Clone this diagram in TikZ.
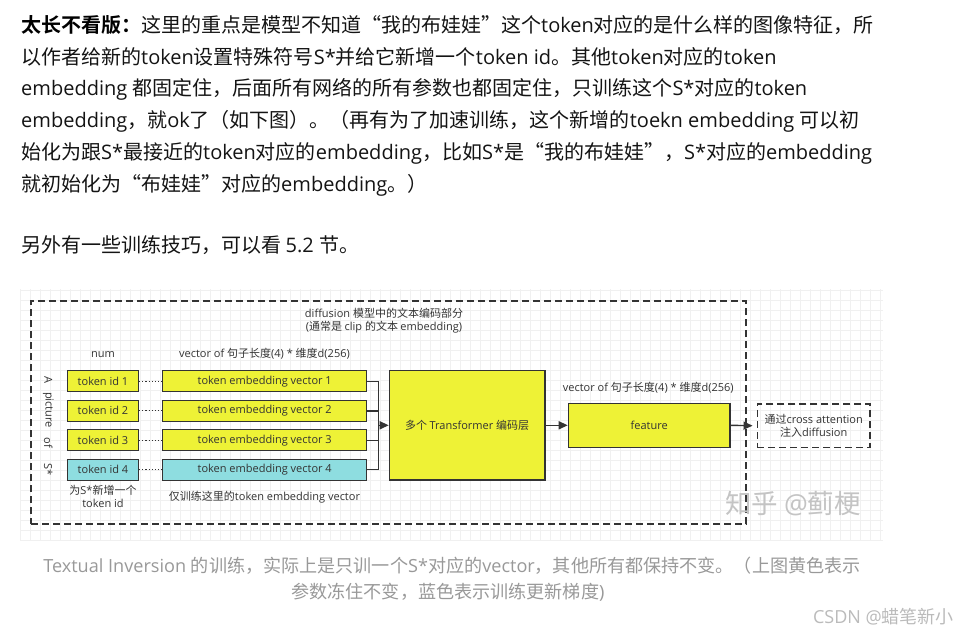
\documentclass[tikz,border=0pt]{standalone}
\usepackage{fontspec}
\setmainfont{Open Sans}
\newfontfamily\cjk{Noto Sans CJK SC}[BoldFont={Noto Sans CJK SC Bold}]
\usetikzlibrary{arrows.meta}
\XeTeXinterchartokenstate=1
\newXeTeXintercharclass\CJKcls
\newcount\cjkcnt
\cjkcnt="2E80
\loop\XeTeXcharclass\cjkcnt=\CJKcls
\ifnum\cjkcnt<"9FFF \advance\cjkcnt by 1 \repeat
\cjkcnt="FF00
\loop\XeTeXcharclass\cjkcnt=\CJKcls
\ifnum\cjkcnt<"FFEF \advance\cjkcnt by 1 \repeat
\XeTeXcharclass"201C=\CJKcls
\XeTeXcharclass"201D=\CJKcls
\XeTeXinterchartoks 0 \CJKcls = {\cjk}
\XeTeXinterchartoks 4095 \CJKcls = {\cjk}
\XeTeXinterchartoks \CJKcls 0 = {\rmfamily}
\XeTeXinterchartoks 4095 0 = {\rmfamily}
\definecolor{bodytxt}{HTML}{141414}
\definecolor{captxt}{HTML}{999999}
\definecolor{csdntxt}{HTML}{BBBBBB}
\definecolor{yel}{HTML}{EEF236}
\definecolor{cya}{HTML}{8EDDE0}
\definecolor{edge}{HTML}{333333}
\definecolor{gridc}{HTML}{F0F0F0}
\definecolor{wmark}{HTML}{C4C4C4}
\tikzset{
  bodyline/.style={anchor=west, inner sep=0, text=bodytxt, font=\fontsize{20}{24}\selectfont},
  capline/.style={anchor=center, inner sep=0, text=captxt, font=\fontsize{18.1}{22}\selectfont},
  dlabel/.style={inner sep=0, text=edge, font=\fontsize{11}{13.2}\selectfont, align=center},
  ybox/.style={draw=edge, fill=yel, line width=1.3pt, inner sep=0, text=edge,
     font=\fontsize{11}{13.2}\selectfont, align=center},
  cbox/.style={ybox, fill=cya},
  idbox/.style={minimum width=70.6pt, minimum height=21pt},
  embbox/.style={minimum width=204pt, minimum height=21pt},
  dashbox/.style={draw=edge, line width=1.6pt, dash pattern=on 7pt off 4pt, inner sep=0},
  conn/.style={draw=edge, line width=1.4pt},
  arr/.style={conn, -{Triangle[length=9pt, width=8pt]}},
  dots/.style={draw=edge, line width=1.2pt, dash pattern=on 1.2pt off 2pt},
}
\begin{document}
\begin{tikzpicture}[x=1pt, y=-1pt]
\useasboundingbox[fill=white] (0,0) rectangle (960,634);
% body text
\node[bodyline] (l1) at (21,25) {\textbf{\color{black}太长不看版：}这里的重点是模型不知道“我的布娃娃”这个token对应的是什么样的图像特征，所};
\node[bodyline] (l2) at (21,57) {以作者给新的token设置特殊符号S*并给它新增一个token id。其他token对应的token};
\node[bodyline] (l3) at (21,89) {embedding 都固定住，后面所有网络的所有参数也都固定住，只训练这个S*对应的token};
\node[bodyline] (l4) at (21,121) {embedding，就ok了（如下图）。（再有为了加速训练，这个新增的toekn embedding 可以初};
\node[bodyline] (l5) at (21,153) {始化为跟S*最接近的token对应的embedding，比如S*是“我的布娃娃”，S*对应的embedding};
\node[bodyline] (l6) at (21,185) {就初始化为“布娃娃”对应的embedding。）};
\node[bodyline] (l7) at (21,245) {另外有一些训练技巧，可以看 5.2 节。};
% diagram background grid
\fill[white] (20,289) rectangle (883,540);
\foreach \gx in {20,30,...,880} \draw[gridc, line width=0.6pt] (\gx,289) -- (\gx,540);
\foreach \gy in {290,300,...,540} \draw[gridc, line width=0.6pt] (20,\gy) -- (883,\gy);
% outer dashed box
\node[dashbox, minimum width=715pt, minimum height=223pt] (outer) at (388.5,412.5) {};
\node[dlabel] (title) at (384,321) {diffusion 模型中的文本编码部分\\(通常是 clip 的文本 embedding)};
\node[dlabel] (num) at (103,354.3) {num};
\node[dlabel] (vec1) at (264.5,354) {vector of 句子长度(4) * 维度d(256)};
% vertical text
\node[dlabel, rotate=-90] (tA) at (48.3,380) {A};
\node[dlabel, rotate=-90] (tpic) at (48.3,410) {picture};
\node[dlabel, rotate=-90] (tof) at (48.3,443) {of};
\node[dlabel, rotate=-90] (tS) at (48.3,470) {S*};
% token id boxes
\node[ybox, idbox] (id1) at (103,381.2) {token id 1};
\node[ybox, idbox] (id2) at (103,410.8) {token id 2};
\node[ybox, idbox] (id3) at (103,440.3) {token id 3};
\node[cbox, idbox] (id4) at (103,469.7) {token id 4};
% embedding boxes
\node[ybox, embbox] (e1) at (264.7,381.2) {token embedding vector 1};
\node[ybox, embbox] (e2) at (264.7,410.8) {token embedding vector 2};
\node[ybox, embbox] (e3) at (264.7,440.3) {token embedding vector 3};
\node[cbox, embbox] (e4) at (264.7,469.7) {token embedding vector 4};
\foreach \i in {1,2,3,4} \draw[dots] (id\i.east) -- (e\i.west);
\node[dlabel] (newid) at (103,496.7) {为S*新增一个\\token id};
\node[dlabel] (onlytrain) at (264.5,496.7) {仅训练这里的token embedding vector};
% transformer
\node[ybox, minimum width=155.7pt, minimum height=109.5pt] (trans) at (467.2,425.3) {多个 Transformer 编码层};
\coordinate (bus) at (378.3,425.3);
\foreach \i in {1,2,3,4} \draw[conn] (e\i.east) -| (bus);
\draw[arr] (bus) -- (trans.west);
% feature
\node[dlabel] (vec2) at (648.3,387.3) {vector of 句子长度(4) * 维度d(256)};
\node[ybox, minimum width=161.7pt, minimum height=44pt] (feat) at (649.2,425.3) {feature};
\draw[arr] (trans.east) -- (feat.west);
\node[dashbox, minimum width=112.7pt, minimum height=43.7pt, text=edge, font=\fontsize{11}{13.4}\selectfont, align=center] (inj) at (813.7,425.8) {通过cross attention\\注入diffusion};
\draw[arr, shorten >=4pt] (feat.east) -- (inj.west);
% watermark
\node[anchor=west, inner sep=0, text=wmark, font=\fontsize{26.5}{30}\selectfont] (wm) at (725,503.3) {知乎 @蓟梗};
% caption
\node[capline] (c1) at (452,566) {Textual Inversion 的训练，实际上是只训一个S*对应的vector，其他所有都保持不变。（上图黄色表示};
\node[capline] (c2) at (448,592) {参数冻住不变，蓝色表示训练更新梯度)};
\node[anchor=east, inner sep=0, text=csdntxt, font=\fontsize{18}{21}\selectfont] (csdn) at (954,617) {CSDN @蜡笔新小};
\end{tikzpicture}
\end{document}
